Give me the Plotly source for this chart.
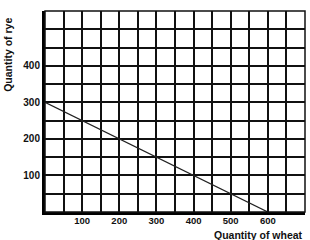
import plotly.graph_objects as go

wheat = [0, 600]
rye = [300, 0]
x_ticks = [100, 200, 300, 400, 500, 600]
y_ticks = [100, 200, 300, 400]
x_title = "Quantity of wheat"
y_title = "Quantity of rye"

fig = go.Figure()
fig.add_trace(go.Scatter(x=wheat, y=rye, mode="lines",
                         line=dict(color="#222", width=1.3), hoverinfo="skip"))

font = dict(family="Liberation Sans, Arial, sans-serif", size=10, color="#111", weight="bold")

fig.update_xaxes(range=[0, 700], tickmode="array", tickvals=x_ticks,
                 ticktext=[str(v) for v in x_ticks], tickfont=dict(font, size=9.5),
                 ticklabelstandoff=-2,
                 showgrid=True, gridcolor="#111", gridwidth=1.5,
                 minor=dict(tick0=0, dtick=50, showgrid=True, gridcolor="#111", gridwidth=1.5),
                 showline=True, linecolor="#000", linewidth=3,
                 ticks="", zeroline=False, fixedrange=True)
fig.update_yaxes(range=[0, 550], tickmode="array", tickvals=y_ticks,
                 ticktext=[str(v) for v in y_ticks], tickfont=font,
                 showgrid=True, gridcolor="#111", gridwidth=1.5,
                 minor=dict(tick0=0, dtick=50, showgrid=True, gridcolor="#111", gridwidth=1.5),
                 showline=True, linecolor="#000", linewidth=3,
                 ticks="", zeroline=False, fixedrange=True)

# thin top/right border
fig.add_shape(type="rect", xref="paper", yref="paper", x0=0, y0=0, x1=1, y1=1,
              line=dict(color="#111", width=1.5))

fig.add_annotation(text=y_title, xref="paper", yref="paper", x=-0.14, y=0.78,
                   textangle=-90, showarrow=False, font=dict(font, size=10.5), xanchor="center", yanchor="middle")
fig.add_annotation(text=x_title, xref="paper", yref="paper", x=1.0, y=-0.112,
                   showarrow=False, font=dict(font, size=10.5), xanchor="right", yanchor="middle")

fig.update_layout(width=310, height=240, margin=dict(l=45, r=5, t=11, b=28),
                  paper_bgcolor="white", plot_bgcolor="white", showlegend=False)

fig.write_html("out.html")
